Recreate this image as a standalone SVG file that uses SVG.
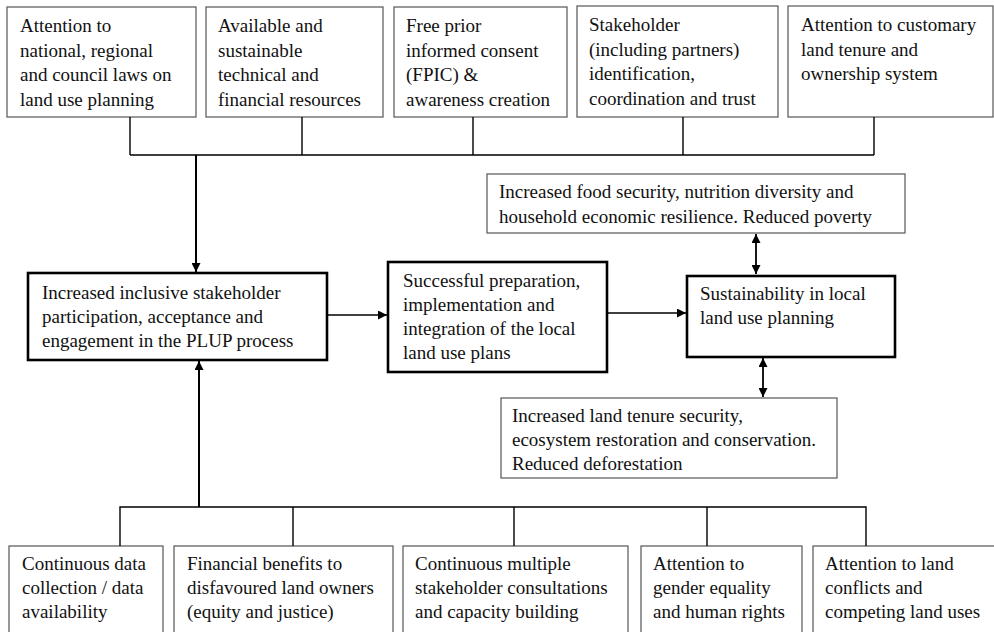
<svg xmlns="http://www.w3.org/2000/svg" width="994" height="632" viewBox="0 0 994 632">
<style>
text{font-family:"Liberation Serif","Times New Roman",serif;font-size:19px;fill:#111}
.thin{fill:#fff;stroke:#555;stroke-width:1.2}
.thick{fill:#fff;stroke:#000;stroke-width:2.6}
.ln{fill:none;stroke:#000;stroke-width:1.4}
</style>
<defs>
<marker id="ah" viewBox="0 0 10 10" refX="10" refY="5" markerWidth="10" markerHeight="9" markerUnits="userSpaceOnUse" orient="auto-start-reverse">
<path d="M0,0 L10,5 L0,10 z" fill="#000"/>
</marker>
</defs>
<g id="t1"><rect class="thin" x="7" y="7" width="189" height="110"/>
<text x="20" y="32">Attention to</text><text x="20" y="56.5">national, regional</text><text x="20" y="81">and council laws on</text><text x="20" y="105.5">land use planning</text></g>
<g id="t2"><rect class="thin" x="206" y="7" width="177" height="110"/>
<text x="218" y="32">Available and</text><text x="218" y="56.5">sustainable</text><text x="218" y="81">technical and</text><text x="218" y="105.5">financial resources</text></g>
<g id="t3"><rect class="thin" x="394" y="7" width="173" height="110"/>
<text x="406" y="32">Free prior</text><text x="406" y="56.5">informed consent</text><text x="406" y="81">(FPIC) &amp;</text><text x="406" y="105.5">awareness creation</text></g>
<g id="t4"><rect class="thin" x="577" y="6" width="201" height="111"/>
<text x="589" y="31">Stakeholder</text><text x="589" y="55.5">(including partners)</text><text x="589" y="80">identification,</text><text x="589" y="104.5">coordination and trust</text></g>
<g id="t5"><rect class="thin" x="788" y="6" width="205" height="111"/>
<text x="801" y="31">Attention to customary</text><text x="801" y="55.5">land tenure and</text><text x="801" y="80">ownership system</text></g>
<g id="m1"><rect class="thick" x="28" y="273" width="299" height="87"/>
<text x="42" y="299">Increased inclusive stakeholder</text><text x="42" y="323">participation, acceptance and</text><text x="42" y="347">engagement in the PLUP process</text></g>
<g id="m2"><rect class="thick" x="388" y="262" width="219" height="110"/>
<text x="403" y="287">Successful preparation,</text><text x="403" y="311">implementation and</text><text x="403" y="335">integration of the local</text><text x="403" y="359">land use plans</text></g>
<g id="m3"><rect class="thick" x="687" y="276" width="208" height="81"/>
<text x="700" y="300">Sustainability in local</text><text x="700" y="324">land use planning</text></g>
<g id="o1"><rect class="thin" x="487" y="174" width="418" height="59"/>
<text x="499" y="198">Increased food security, nutrition diversity and</text><text x="499" y="223">household economic resilience. Reduced poverty</text></g>
<g id="o2"><rect class="thin" x="501" y="398" width="336" height="80"/>
<text x="512" y="422">Increased land tenure security,</text><text x="512" y="446">ecosystem restoration and conservation.</text><text x="512" y="470">Reduced deforestation</text></g>
<g id="b1"><rect class="thin" x="9" y="546" width="154" height="100"/>
<text x="22" y="570">Continuous data</text><text x="22" y="594">collection / data</text><text x="22" y="618">availability</text></g>
<g id="b2"><rect class="thin" x="174" y="546" width="219" height="100"/>
<text x="187" y="570">Financial benefits to</text><text x="187" y="594">disfavoured land owners</text><text x="187" y="618">(equity and justice)</text></g>
<g id="b3"><rect class="thin" x="403" y="546" width="225" height="100"/>
<text x="415" y="570">Continuous multiple</text><text x="415" y="594">stakeholder consultations</text><text x="415" y="618">and capacity building</text></g>
<g id="b4"><rect class="thin" x="641" y="546" width="161" height="100"/>
<text x="653" y="570">Attention to</text><text x="653" y="594">gender equality</text><text x="653" y="618">and human rights</text></g>
<g id="b5"><rect class="thin" x="813" y="546" width="190" height="100"/>
<text x="825" y="570">Attention to land</text><text x="825" y="594">conflicts and</text><text x="825" y="618">competing land uses</text></g>
<g id="connectors">
<path class="ln" d="M130,117 V155 M302,117 V155 M473,117 V155 M683,117 V155 M874,117 V155 M130,155 H874"/>
<path class="ln" style="stroke-width:2" d="M196,155 V272" marker-end="url(#ah)"/>
<path class="ln" d="M120,546 V507 H866 V546 M293,507 V546 M514,507 V546 M707,507 V546"/>
<path class="ln" style="stroke-width:2" d="M199,507 V361" marker-end="url(#ah)"/>
<path class="ln" d="M327,315 H387" marker-end="url(#ah)"/>
<path class="ln" d="M607,313 H686" marker-end="url(#ah)"/>
<path class="ln" style="stroke-width:1.8" d="M756,234 V274" marker-start="url(#ah)" marker-end="url(#ah)"/>
<path class="ln" style="stroke-width:1.8" d="M763,358 V397" marker-start="url(#ah)" marker-end="url(#ah)"/>
</g>
</svg>
